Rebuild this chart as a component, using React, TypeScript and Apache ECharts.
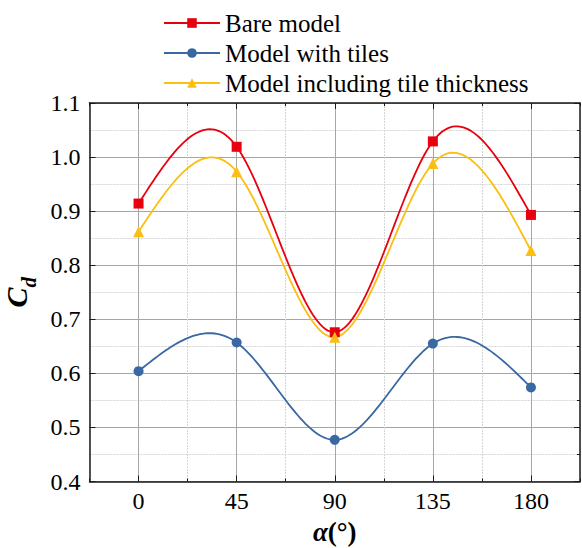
import React, { useEffect, useRef } from "react";
import * as echarts from "echarts";

const angles = [0, 45, 90, 135, 180];
const bareModel = [0.914, 1.019, 0.676, 1.029, 0.893];
const withTiles = [0.604, 0.657, 0.477, 0.655, 0.574];
const withThickness = [0.862, 0.973, 0.667, 0.988, 0.827];
const seriesNames = ["Bare model", "Model with tiles", "Model including tile thickness"];
const xTickLabels = ["0", "45", "90", "135", "180"];

const FONT = "'Liberation Serif', 'Times New Roman', serif";
const RED = "#e8000f";
const BLUE = "#3a68a3";
const YELLOW = "#fbbf12";

// natural cubic spline second derivatives (drawing helper, like Origin's "Spline" connect)
function splineM(xs: number[], ys: number[]) {
  const n = xs.length;
  const M = new Array(n).fill(0);
  if (n < 3) return M;
  const a: number[] = [], b: number[] = [], c: number[] = [], d: number[] = [];
  for (let i = 1; i < n - 1; i++) {
    const h0 = xs[i] - xs[i - 1];
    const h1 = xs[i + 1] - xs[i];
    a.push(h0);
    b.push(2 * (h0 + h1));
    c.push(h1);
    d.push(6 * ((ys[i + 1] - ys[i]) / h1 - (ys[i] - ys[i - 1]) / h0));
  }
  const m = b.length;
  for (let i = 1; i < m; i++) {
    const w = a[i] / b[i - 1];
    b[i] -= w * c[i - 1];
    d[i] -= w * d[i - 1];
  }
  const sol = new Array(m).fill(0);
  sol[m - 1] = d[m - 1] / b[m - 1];
  for (let i = m - 2; i >= 0; i--) sol[i] = (d[i] - c[i] * sol[i + 1]) / b[i];
  for (let i = 0; i < m; i++) M[i + 1] = sol[i];
  return M;
}

function splineSeries(name: string, ys: number[], color: string, z: number) {
  const M = splineM(angles, ys);
  return {
    type: "custom",
    name: name + " (curve)",
    silent: true,
    z,
    clip: true,
    data: angles.map((x, i) => [x, ys[i]]),
    encode: { x: 0, y: 1 },
    renderItem: (params: any, api: any) => {
      const i = params.dataIndex;
      if (i >= angles.length - 1) return { type: "group", children: [] };
      const x0 = angles[i], x1 = angles[i + 1];
      const h = x1 - x0;
      const pts: number[][] = [];
      const steps = 40;
      for (let k = 0; k <= steps; k++) {
        const x = x0 + (h * k) / steps;
        const A = (x1 - x) / h;
        const B = (x - x0) / h;
        const y =
          A * ys[i] + B * ys[i + 1] +
          ((A * A * A - A) * M[i] + (B * B * B - B) * M[i + 1]) * (h * h) / 6;
        pts.push(api.coord([x, y]));
      }
      return {
        type: "polyline",
        shape: { points: pts },
        style: { stroke: color, lineWidth: 1.8, fill: "none" },
      };
    },
  };
}

function markerSeries(name: string, ys: number[], color: string, symbol: string, size: number, z: number) {
  return {
    type: "line",
    name,
    z,
    data: angles.map((x, i) => [x, ys[i]]),
    symbol,
    symbolSize: size,
    showSymbol: true,
    itemStyle: { color },
    lineStyle: { color, opacity: 0, width: 2 },
    emphasis: { disabled: true },
  };
}

export default function App() {
  const ref = useRef<HTMLDivElement>(null);
  useEffect(() => {
    if (!ref.current) return;
    const chart = echarts.init(ref.current, undefined, { renderer: "svg" });
    const gridMajor = "#a6a6a6";
    const gridMinor = "#d4d4d4";
    const frame = { show: true, onZero: false, lineStyle: { color: "#1a1a1a", width: 1.5 } };
    chart.setOption({
      animation: false,
      backgroundColor: "#ffffff",
      textStyle: { fontFamily: FONT },
      legend: {
        data: seriesNames,
        orient: "vertical",
        left: 158,
        top: 5.5,
        itemWidth: 56,
        itemHeight: 12,
        itemGap: 5,
        selectedMode: false,
        lineStyle: { opacity: 1, width: 2 },
        textStyle: { fontFamily: FONT, fontSize: 25, color: "#000", lineHeight: 25 },
      },
      grid: { left: 89.5, right: 2, top: 103, bottom: 66.5, containLabel: false, outerBoundsMode: "none" },
      xAxis: [
        {
          type: "value",
          position: "bottom",
          min: -22.5,
          max: 202.5,
          interval: 22.5,
          axisLine: frame,
          axisTick: { show: false },
          splitLine: { show: false },
          axisLabel: {
            fontSize: 24,
            color: "#000",
            fontFamily: FONT,
            margin: 7,
            showMinLabel: true,
            showMaxLabel: true,
            formatter: (v: number) => {
              const idx = angles.indexOf(Math.round(v * 10) / 10);
              return idx >= 0 ? xTickLabels[idx] : "";
            },
          },
          name: "{a|α}{b|(°)}",
          nameLocation: "middle",
          nameGap: 37,
          nameTextStyle: {
            rich: {
              a: { fontFamily: FONT, fontSize: 27, fontWeight: "bold", fontStyle: "italic", color: "#000", lineHeight: 27 },
              b: { fontFamily: FONT, fontSize: 27, fontWeight: "bold", color: "#000", lineHeight: 27 },
            },
          },
        },
        {
          type: "value",
          position: "bottom",
          min: -22.5,
          max: 202.5,
          interval: 45,
          axisLine: { show: false },
          axisLabel: { show: false },
          axisTick: { show: true, inside: true, length: 3, lineStyle: { color: "#1a1a1a", width: 1 } },
          minorTick: { show: true, splitNumber: 2, length: 6, lineStyle: { color: "#1a1a1a", width: 1 } },
          splitLine: { show: true, lineStyle: { color: gridMinor, type: [2, 1], width: 1 } },
          minorSplitLine: { show: true, lineStyle: { color: gridMajor, width: 1 } },
        },
        {
          type: "value",
          position: "top",
          min: -22.5,
          max: 202.5,
          interval: 45,
          axisLine: frame,
          axisLabel: { show: false },
          axisTick: { show: true, inside: true, length: 3, lineStyle: { color: "#1a1a1a", width: 1 } },
          minorTick: { show: true, splitNumber: 2, length: 6, lineStyle: { color: "#1a1a1a", width: 1 } },
          splitLine: { show: false },
        },
      ],
      yAxis: [
        {
          type: "value",
          position: "left",
          min: 0.4,
          max: 1.1,
          interval: 0.1,
          axisLine: frame,
          axisTick: { show: true, inside: true, length: 6, lineStyle: { color: "#1a1a1a", width: 1 } },
          splitLine: { show: true, lineStyle: { color: gridMajor, width: 1 } },
          minorTick: { show: false, splitNumber: 2 },
          minorSplitLine: { show: true, lineStyle: { color: gridMinor, type: [2, 1], width: 1 } },
          axisLabel: {
            fontSize: 24,
            color: "#000",
            fontFamily: FONT,
            margin: 9,
            formatter: (v: number) => v.toFixed(1),
          },
          name: "{c|C}{d|d}",
          nameLocation: "middle",
          nameGap: 44,
          nameTextStyle: {
            rich: {
              c: { fontFamily: FONT, fontSize: 30, fontWeight: "bold", fontStyle: "italic", color: "#000", lineHeight: 30 },
              d: {
                fontFamily: FONT,
                fontSize: 21,
                fontWeight: "bold",
                fontStyle: "italic",
                color: "#000",
                lineHeight: 21,
                padding: [26, 0, 0, 0],
              },
            },
          },
        },
        {
          type: "value",
          position: "right",
          min: 0.4,
          max: 1.1,
          interval: 0.1,
          axisLine: frame,
          axisLabel: { show: false },
          axisTick: { show: true, inside: true, length: 6, lineStyle: { color: "#1a1a1a", width: 1 } },
          minorTick: { show: true, splitNumber: 2, length: 3, lineStyle: { color: "#1a1a1a", width: 1 } },
          splitLine: { show: false },
        },
      ],
      series: [
        splineSeries(seriesNames[0], bareModel, RED, 3),
        splineSeries(seriesNames[1], withTiles, BLUE, 3),
        splineSeries(seriesNames[2], withThickness, YELLOW, 3),
        markerSeries(seriesNames[0], bareModel, RED, "rect", 10, 5),
        markerSeries(seriesNames[1], withTiles, BLUE, "circle", 10, 5),
        markerSeries(seriesNames[2], withThickness, YELLOW, "triangle", 11, 5),
      ],
    });
    return () => chart.dispose();
  }, []);
  return (
    <div
      ref={ref}
      style={{ position: "fixed", left: 0, top: 0, width: 582, height: 548, background: "#fff" }}
    />
  );
}
